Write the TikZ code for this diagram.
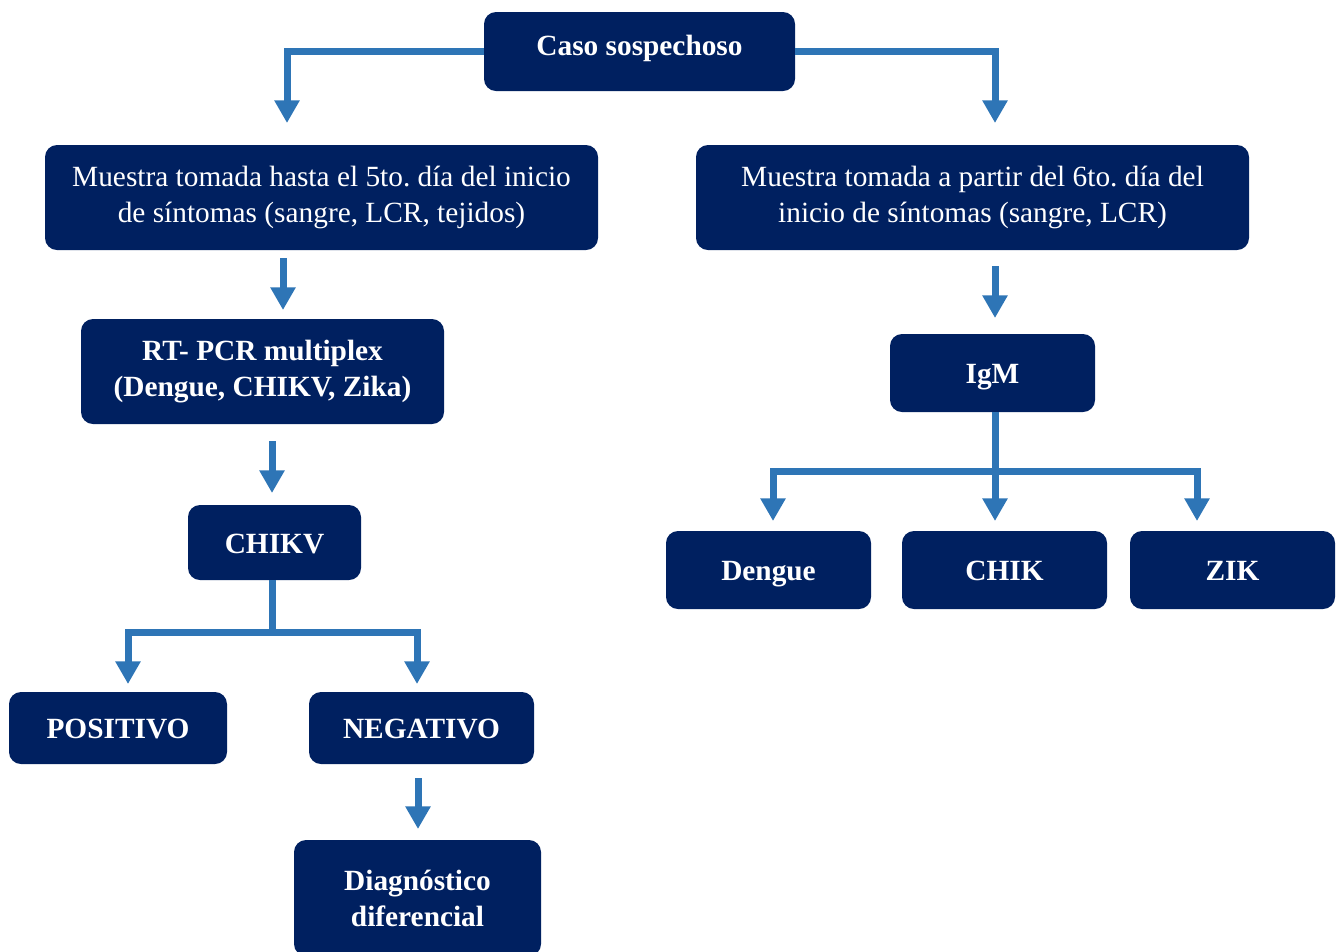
\documentclass[tikz,border=0pt]{standalone}
\usepackage{fontspec}
\setmainfont{Liberation Serif}
\usetikzlibrary{arrows.meta}
\definecolor{navy}{HTML}{002060}
\definecolor{arrblue}{HTML}{2E75B6}
\frenchspacing
\begin{document}
\begin{tikzpicture}[x=0.75pt,y=-0.75pt,
 box/.style={fill=navy,rounded corners=9pt,text=white,align=center,inner sep=0pt,font=\fontsize{22}{27}\selectfont},
 bbox/.style={box,font=\fontsize{22}{27}\selectfont\bfseries},
 one/.style={text height=18pt,text depth=2pt},
 con/.style={draw=arrblue,line width=5.25pt},
 arr/.style={con,-{Triangle[width=18pt,length=17pt]}}]
\useasboundingbox (0,0) rectangle (1341,951);
\clip (0,0) rectangle (1341,951);
\node[bbox,text height=13pt,text depth=7.5pt,minimum width=233.25pt,minimum height=59.25pt] (caso) at (639.5,51.5) {Caso sospechoso};
\node[box,minimum width=414.75pt,minimum height=78.75pt] (mL) at (321.5,197.5) {Muestra tomada hasta el 5to. día del inicio\\de síntomas (sangre, LCR, tejidos)};
\node[box,minimum width=414.75pt,minimum height=78.75pt] (mR) at (972.5,197.5) {Muestra tomada a partir del 6to. día del\\inicio de síntomas (sangre, LCR)};
\node[bbox,minimum width=272.25pt,minimum height=78.75pt] (rt) at (262.5,371.5) {RT- PCR multiplex\\(Dengue, CHIKV, Zika)};
\node[bbox,one,minimum width=129.75pt,minimum height=56.25pt] (chikv) at (274.5,542.5) {CHIKV};
\node[bbox,one,minimum width=163.5pt,minimum height=54pt] (pos) at (118,728) {POSITIVO};
\node[bbox,one,minimum width=168.75pt,minimum height=54pt] (neg) at (421.5,728) {NEGATIVO};
\node[bbox,minimum width=185.25pt,minimum height=87pt] (diag) at (417.5,898) {Diagnóstico\\diferencial};
\node[bbox,one,minimum width=153.75pt,minimum height=58.5pt] (igm) at (992.5,373) {IgM};
\node[bbox,one,minimum width=153.75pt,minimum height=58.5pt] (den) at (768.5,570) {Dengue};
\node[bbox,one,minimum width=153.75pt,minimum height=58.5pt] (chik) at (1004.5,570) {CHIK};
\node[bbox,one,minimum width=153.75pt,minimum height=58.5pt] (zik) at (1232.5,570) {ZIK};
% connectors
\coordinate (tL) at (287,123);
\coordinate (tR) at (995,123);
\draw[arr] (caso.west) -| (tL);
\draw[arr] (caso.east) -| (tR);
\coordinate (s1) at (283,258); \coordinate (e1) at (283,310);
\draw[arr] (s1) -- (e1);
\coordinate (s2) at (272,441); \coordinate (e2) at (272,493);
\draw[arr] (s2) -- (e2);
\coordinate (b1) at (272,632);
\coordinate (tP) at (128,684); \coordinate (tN) at (417,684);
\draw[con] (chikv.south -| b1) -- (b1);
\draw[arr] (b1) -| (tP);
\draw[arr] (b1) -| (tN);
\coordinate (s3) at (418,778); \coordinate (e3) at (418,829);
\draw[arr] (s3) -- (e3);
\coordinate (s4) at (995,266); \coordinate (e4) at (995,318);
\draw[arr] (s4) -- (e4);
\coordinate (b2) at (995,471);
\coordinate (tC) at (995,521); \coordinate (tD) at (773,521); \coordinate (tZ) at (1197,521);
\draw[arr] (igm.south -| b2) -- (tC);
\draw[arr] (b2) -| (tD);
\draw[arr] (b2) -| (tZ);
\end{tikzpicture}
\end{document}
